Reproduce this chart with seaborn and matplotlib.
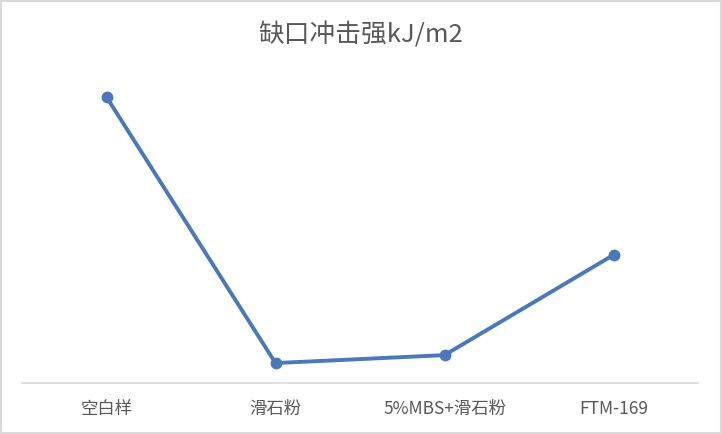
import matplotlib
matplotlib.use("Agg")
import matplotlib.pyplot as plt
import seaborn as sns
import pandas as pd
from matplotlib.patches import Rectangle

# Notched impact strength per sample (y axis hidden in the original, values estimated)
categories = ["空白样", "滑石粉", "5%MBS+滑石粉", "FTM-169"]
impact = [10.05, 0.70, 0.98, 4.50]

LINE_COLOR = "#4A78BA"
TEXT_COLOR = "#595959"

sns.set_theme(style="white")
plt.rcParams["font.family"] = ["Noto Sans CJK SC", "DejaVu Sans"]

df = pd.DataFrame({"sample": categories, "impact": impact})

fig = plt.figure(figsize=(7.22, 4.34), dpi=100)
ax = fig.add_axes([22 / 722, 1 - 383 / 434, 676 / 722, (383 - 70) / 434])

sns.lineplot(data=df, x="sample", y="impact", sort=False, color=LINE_COLOR,
             linewidth=2.8, marker="o", markersize=8.5, markeredgewidth=0, ax=ax)

ax.set_xlim(-0.5, 3.5)
ax.set_ylim(0, 11)
ax.set_xlabel("")
ax.set_ylabel("")
ax.set_yticks([])
ax.tick_params(axis="x", length=0, pad=12, labelsize=12.5, labelcolor=TEXT_COLOR)
for side in ["top", "left", "right"]:
    ax.spines[side].set_visible(False)
ax.spines["bottom"].set_color("#D9D9D9")
ax.spines["bottom"].set_linewidth(1.2)

fig.text(0.5, 1 - 35 / 434, "缺口冲击强kJ/m2", ha="center", va="center",
         fontsize=18.5, color=TEXT_COLOR, fontweight="light")

# light grey frame around the whole chart
fig.patches.append(Rectangle((0.002, 0.003), 0.996, 0.994, transform=fig.transFigure,
                             fill=False, edgecolor="#D9D9D9", linewidth=1.5))

fig.savefig("out.png", dpi=100)
